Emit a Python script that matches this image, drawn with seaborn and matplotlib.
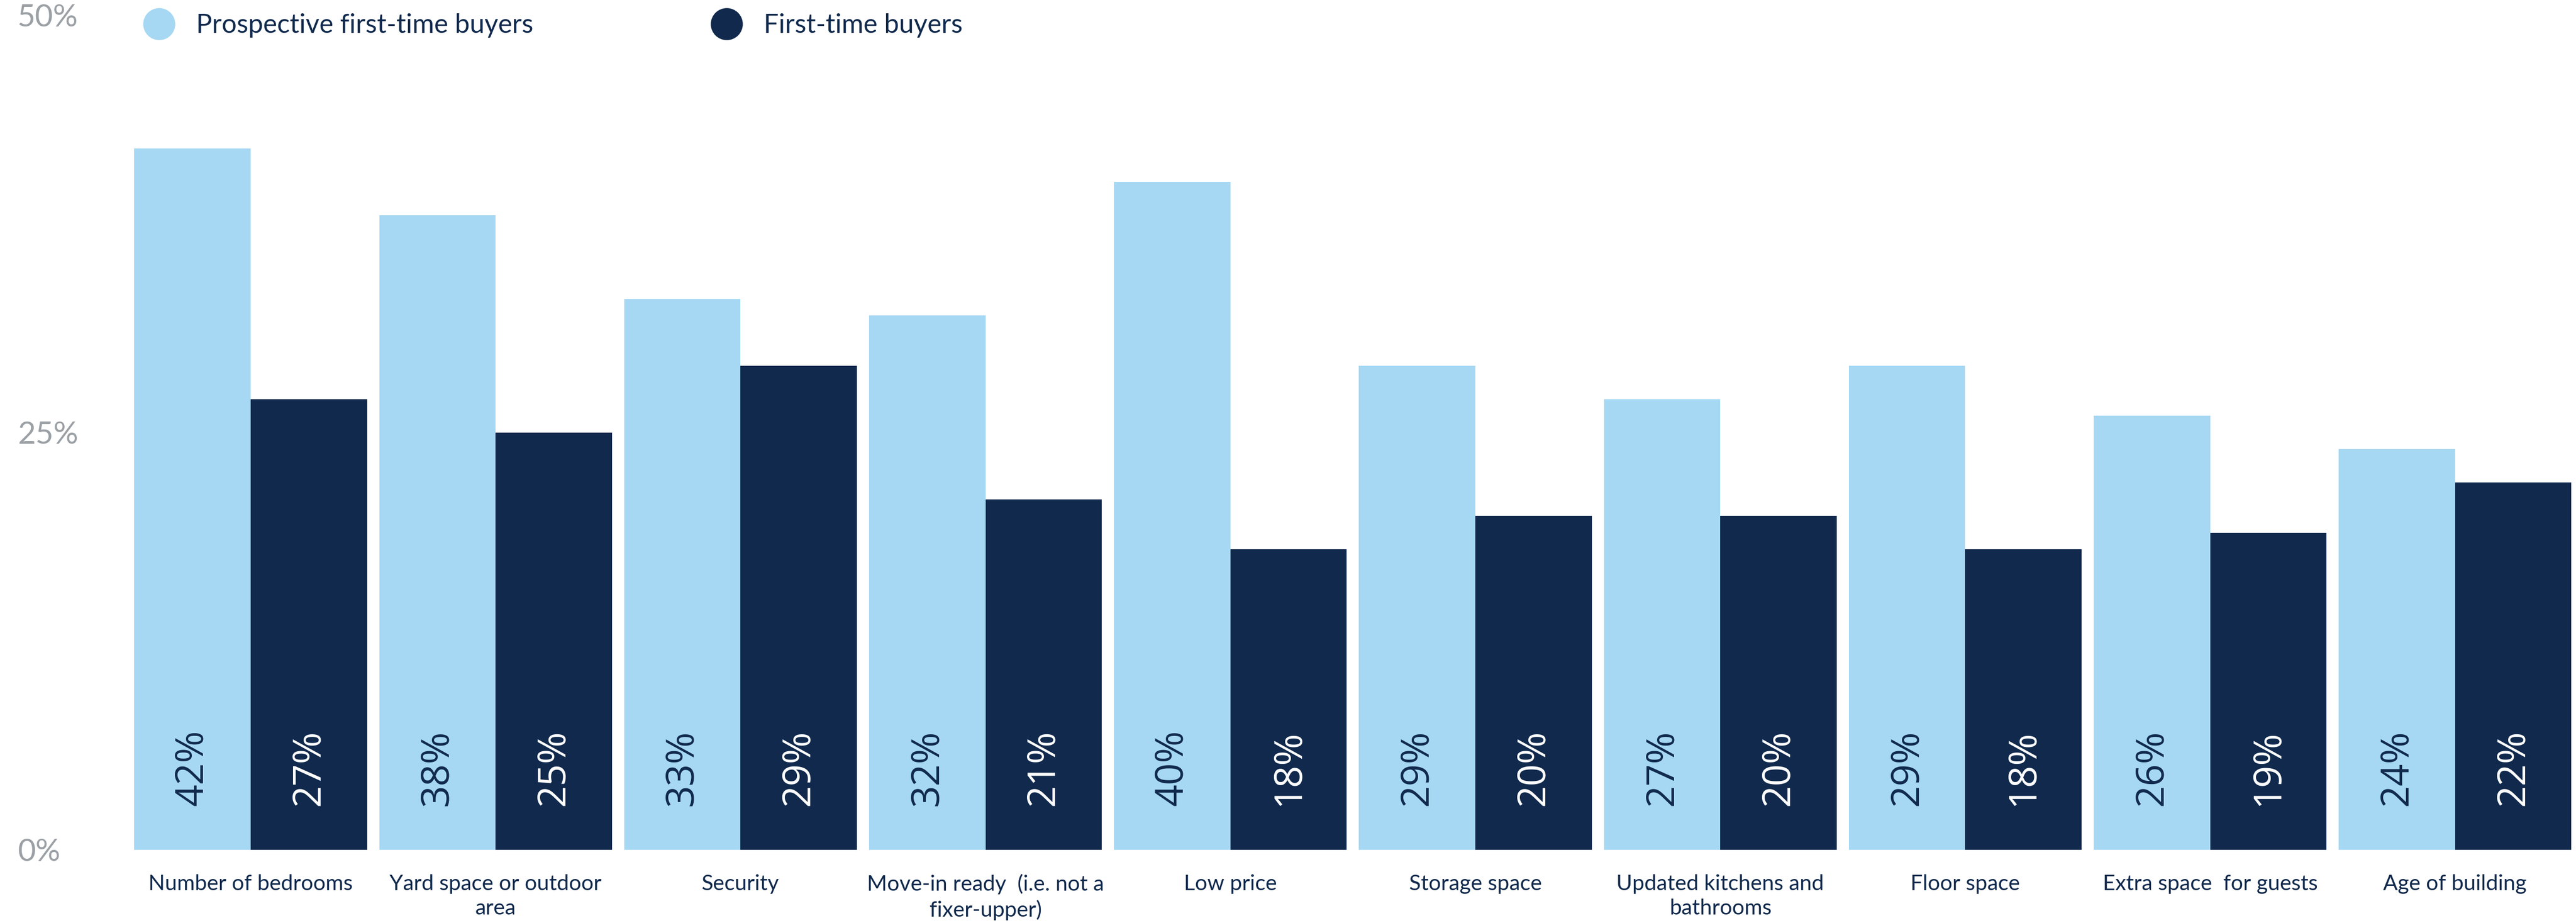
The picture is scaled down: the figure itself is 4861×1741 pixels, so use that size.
import matplotlib
matplotlib.use("Agg")
import matplotlib.pyplot as plt
from matplotlib.lines import Line2D
import pandas as pd
import seaborn as sns

# Survey data: share of respondents naming each factor
factors = [
    "Number of bedrooms",
    "Yard space or outdoor\narea",
    "Security",
    "Move-in ready  (i.e. not a\nfixer-upper)",
    "Low price",
    "Storage space",
    "Updated kitchens and\nbathrooms",
    "Floor space",
    "Extra space  for guests",
    "Age of building",
]
prospective = [42, 38, 33, 32, 40, 29, 27, 29, 26, 24]
first_time = [27, 25, 29, 21, 18, 20, 20, 18, 19, 22]
groups = ["Prospective first-time buyers", "First-time buyers"]
y_ticks = [0, 25, 50]
y_tick_labels = ["0%", "25%", "50%"]

LIGHT = "#A6D8F3"
DARK = "#10294C"
NAVY_TEXT = "#10294C"
GREY_TEXT = "#9BA0A5"

df = pd.DataFrame({
    "factor": factors * 2,
    "share": prospective + first_time,
    "group": [groups[0]] * len(factors) + [groups[1]] * len(factors),
})

sns.set_theme(style="white")
plt.rcParams["font.family"] = ["Lato", "DejaVu Sans"]

W, H, DPI = 4861, 1741, 300
fig = plt.figure(figsize=(W / DPI, H / DPI), dpi=DPI, facecolor="white")

# axes geometry in pixels
ax_left_px = 200
base_px = 1603            # baseline from top
px_per_unit = 31.5        # pixels per percentage point
ymax = 50
ax_h_px = ymax * px_per_unit
ax = fig.add_axes([ax_left_px / W, (H - base_px) / H, 1 - ax_left_px / W, ax_h_px / H])

sns.barplot(
    data=df, x="factor", y="share", hue="group", order=factors, hue_order=groups,
    palette=[LIGHT, DARK], width=0.95, saturation=1, linewidth=0, legend=False, ax=ax,
)

first_center_px, pitch_px = 473, 462.2
ax.set_xlim((ax_left_px - first_center_px) / pitch_px, (W - first_center_px) / pitch_px)
ax.set_ylim(0, ymax)

# value labels, rotated, sitting near the bottom of each bar
label_y = 155 / px_per_unit
for container, txt_color in zip(ax.containers, [NAVY_TEXT, "white"]):
    for bar in container:
        val = bar.get_height()
        ax.text(bar.get_x() + bar.get_width() / 2, label_y, f"{val:.0f}%",
                rotation=90, rotation_mode="anchor", ha="center", va="center",
                color=txt_color, fontsize=17.5, family=["Open Sans", "DejaVu Sans"])

for s in ax.spines.values():
    s.set_visible(False)
ax.set_xlabel("")
ax.set_ylabel("")
ax.grid(False)

ax.tick_params(axis="x", length=0, pad=11, labelsize=9.8, labelcolor=NAVY_TEXT)
for t in ax.get_xticklabels():
    t.set_linespacing(1.3)
    t.set_ha("center")

ax.set_yticks(y_ticks)
ax.set_yticklabels(y_tick_labels)
ax.tick_params(axis="y", length=0, pad=(ax_left_px - 33) * 72 / DPI, labelsize=14, labelcolor=GREY_TEXT)
for t in ax.get_yticklabels():
    t.set_ha("left")

# legend: two circle markers with labels across the top
def circle(c):
    return Line2D([0], [0], marker="o", linestyle="none", markersize=13.5,
                  markerfacecolor=c, markeredgecolor=c)

for handle_color, label, x_px in [(LIGHT, groups[0], 270), (DARK, groups[1], 1341)]:
    leg = fig.legend([circle(handle_color)], [label], loc="center left",
                     bbox_to_anchor=(x_px / W, 1 - 48 / H), frameon=False,
                     borderpad=0, borderaxespad=0, handlelength=1.2, handletextpad=0.8,
                     prop={"family": ["Lato", "DejaVu Sans"], "size": 12})
    for t in leg.get_texts():
        t.set_color(NAVY_TEXT)

fig.savefig("out.png", dpi=DPI, facecolor="white")
